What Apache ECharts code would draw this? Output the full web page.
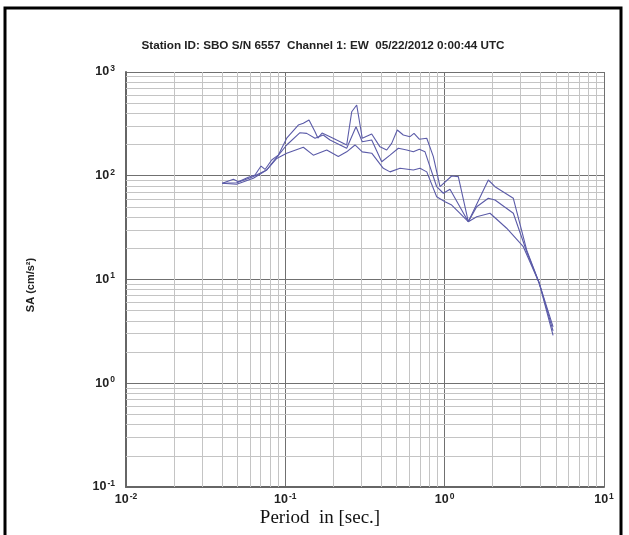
<!DOCTYPE html>
<html>
<head>
<meta charset="utf-8">
<script src="https://cdn.jsdelivr.net/npm/echarts@6/dist/echarts.min.js"></script>
<style>html,body{margin:0;padding:0;background:#fff;}#c{width:629px;height:535px;}</style>
</head>
<body>
<div id="c"></div>
<script>
// ---- data ----
var periodsUpper = [0.0402,0.0472,0.0507,0.0586,0.0645,0.0704,0.0746,0.0821,0.0903,0.102,0.1206,0.1297,0.1408,0.1536,0.160,0.170,0.1907,0.210,0.2427,0.261,0.2805,0.304,0.3484,0.3928,0.4327,0.465,0.5043,0.55,0.606,0.642,0.693,0.772,0.849,0.935,1.107,1.218,1.407,1.879,2.07,2.697,3.273,3.926,4.79];
var saUpper = [84.6,92.4,87.6,96.6,101.7,124,115,142,158,230,308,320,345,266,231,258,238,221,198,414,481,230,253,190,177,205,276,247,238,256,225,230,153,78.4,99.4,98,36.1,91,78.4,60.6,19.2,9.19,3.5];

var periodsMiddle = [0.0402,0.0495,0.0615,0.0764,0.084,0.102,0.1236,0.1362,0.1536,0.173,0.1907,0.2427,0.2777,0.304,0.3484,0.4025,0.454,0.512,0.578,0.636,0.693,0.753,0.891,0.981,1.08,1.407,1.589,1.879,2.07,2.697,3.273,3.926,4.79];
var saMiddle = [84.6,85.7,96.6,113.6,136.6,198,260,256,230,247,221,184,297,213,221,136.6,158,184,177,170,180,170,78.4,67.8,74,36.1,50.3,60.6,58.3,43.5,18.5,9.19,3.2];

var periodsLower = [0.0402,0.0495,0.063,0.0764,0.0883,0.102,0.1297,0.1498,0.1819,0.215,0.2427,0.2737,0.304,0.3484,0.412,0.454,0.5245,0.636,0.7,0.772,0.891,1.005,1.107,1.407,1.589,1.926,2.449,3.116,3.926,4.79];
var saLower = [84.6,82.7,94.5,113.6,147,165,188,158,177,153,170,198,170,165,118,109,118,113.6,118,109,62.8,56.2,52.2,36.1,40.3,43.5,31.2,20.7,9.19,2.9];

var xDecades = [0.01, 0.1, 1];
var yDecades = [0.1, 1, 10, 100];
var minorMultipliers = [2,3,4,5,6,7,8,9];

var titleText = 'Station ID: SBO S/N 6557  Channel 1: EW  05/22/2012 0:00:44 UTC';
var xName = 'Period  in [sec.]';
var yName = 'SA (cm/s²)';

// ---- build ----
function pairs(xs, ys){ return xs.map(function(x,i){ return [x, ys[i]]; }); }
var minorLines = [];
xDecades.forEach(function(d){ minorMultipliers.forEach(function(m){ minorLines.push({xAxis: +(d*m).toPrecision(3)}); }); });
yDecades.forEach(function(d){ minorMultipliers.forEach(function(m){ minorLines.push({yAxis: +(d*m).toPrecision(3)}); }); });

function expLabel(v){
  var e = Math.round(Math.log10(v));
  return '{b|10}{e|' + e + '}';
}
var rich = {
  b: {fontFamily:'Liberation Sans', fontWeight:'bold', fontSize:12.5, color:'#222'},
  e: {fontFamily:'Liberation Sans', fontWeight:'bold', fontSize:8.5, color:'#222', verticalAlign:'bottom', padding:[0,0,7,1]}
};
var lineColor = '#5b5ba8';
function lineSeries(xs, ys){
  return {type:'line', data:pairs(xs, ys), showSymbol:false, symbol:'none', smooth:false,
          lineStyle:{color:lineColor, width:1.1}, silent:true, z:5};
}

var chart = echarts.init(document.getElementById('c'), null, {renderer:'canvas'});
chart.setOption({
  animation:false,
  backgroundColor:'#fff',
  title:{text:titleText, left:318, top:35, textAlign:'center',
         textStyle:{fontFamily:'Liberation Sans', fontWeight:'bold', fontSize:11.7, color:'#222'}},
  grid:{left:126, top:72, right:25, bottom:48},
  xAxis:{type:'log', logBase:10, min:0.01, max:10,
    axisLine:{show:true, lineStyle:{color:'#666', width:2}},
    axisTick:{show:false},
    axisLabel:{formatter:expLabel, rich:rich, margin:5},
    splitLine:{show:true, lineStyle:{color:'#707070', width:1}},
    minorTick:{show:false}, minorSplitLine:{show:false}
  },
  yAxis:{type:'log', logBase:10, min:0.1, max:1000,
    axisLine:{show:true, lineStyle:{color:'#666', width:2}},
    axisTick:{show:false},
    axisLabel:{formatter:expLabel, rich:rich, margin:11},
    splitLine:{show:true, lineStyle:{color:'#707070', width:1}}
  },
  graphic:[
    {type:'rect', shape:{x:5, y:8, width:616, height:545}, style:{fill:null, stroke:'#000', lineWidth:3}, silent:true, z:100},
    {type:'text', x:320, y:518, style:{text:xName, fontFamily:'Liberation Serif', fontSize:19, fill:'#111', textAlign:'center', textVerticalAlign:'middle'}, silent:true},
    {type:'text', x:31, y:285, rotation:Math.PI/2, style:{text:yName, fontFamily:'Liberation Sans', fontWeight:'bold', fontSize:11, fill:'#222', textAlign:'center', textVerticalAlign:'middle'}, silent:true}
  ],
  series:[
    {type:'line', data:[], silent:true, z:1,
     markLine:{silent:true, symbol:'none', animation:false, label:{show:false},
               lineStyle:{color:'#c4c4c4', width:1, type:'solid'}, emphasis:{disabled:true}, data:minorLines}},
    lineSeries(periodsUpper, saUpper),
    lineSeries(periodsMiddle, saMiddle),
    lineSeries(periodsLower, saLower)
  ]
});
</script>
</body>
</html>
